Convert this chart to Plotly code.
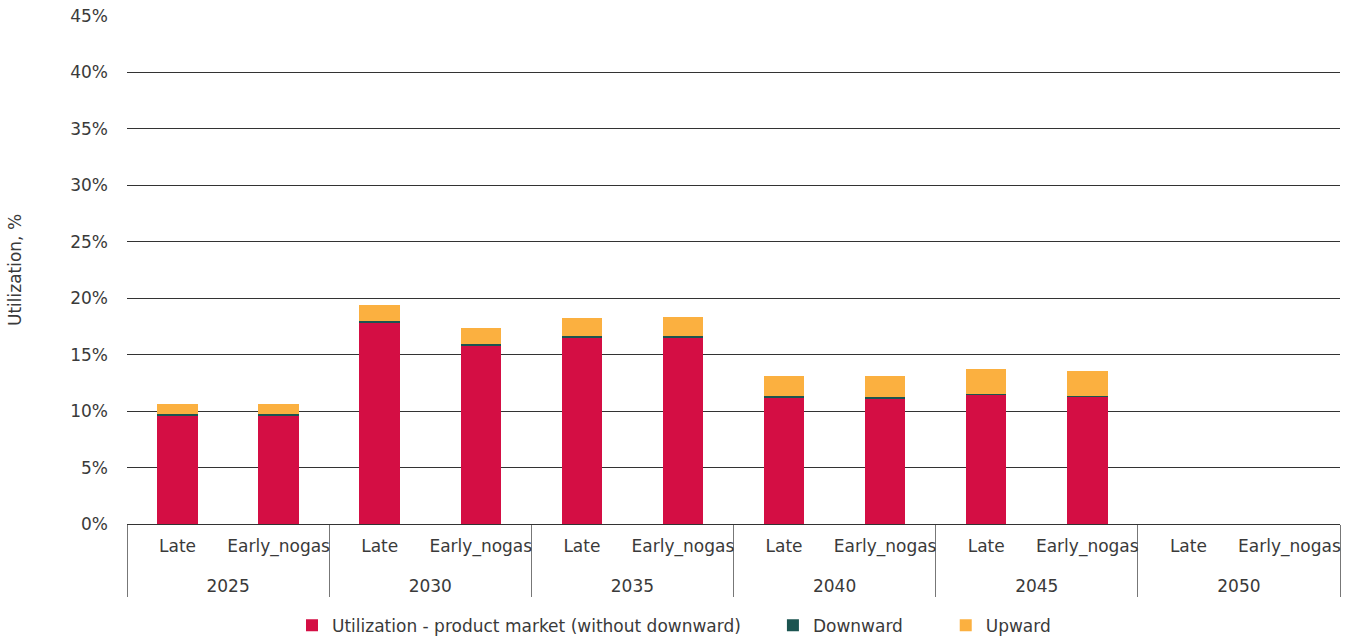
import plotly.graph_objects as go

years = ["2025", "2025", "2030", "2030", "2035", "2035",
         "2040", "2040", "2045", "2045", "2050", "2050"]
scenarios = ["Late", "Early_nogas"] * 6

# Utilization shares in %, stacked per scenario
product_market = [9.6, 9.6, 17.85, 15.85, 16.55, 16.55, 11.2, 11.15, 11.45, 11.25, 0, 0]
downward = [0.12, 0.12, 0.15, 0.12, 0.12, 0.13, 0.1, 0.1, 0.1, 0.12, 0, 0]
upward = [0.9, 0.9, 1.4, 1.4, 1.6, 1.65, 1.85, 1.9, 2.2, 2.15, 0, 0]

y_ticks = [0, 5, 10, 15, 20, 25, 30, 35, 40, 45]
y_tick_text = [f"{v}%" for v in y_ticks]

series = [
    ("Utilization - product market (without downward)", product_market, "#D40E44"),
    ("Downward", downward, "#1B5450"),
    ("Upward", upward, "#FBB040"),
]

FONT = "DejaVu Sans"
TEXT = "#3a3a3a"
SIZE = 17

# inner labels carry a transparent, lowered second line to open space above the year row
SPACER = "<br><sub><span style='color:rgba(0,0,0,0)'>g</span></sub>"
inner_labels = [s + SPACER for s in scenarios]

# extra trailing room after each legend entry
legend_pad = {0: 5, 1: 7, 2: 0}

fig = go.Figure()
for i, (name, vals, color) in enumerate(series):
    fig.add_trace(go.Bar(
        x=[years, inner_labels],
        y=vals,
        name=name + "&nbsp;" * legend_pad[i],
        marker=dict(color=color, line=dict(width=0)),
    ))

fig.update_layout(
    barmode="stack",
    bargap=0.6,
    width=1348,
    height=639,
    margin=dict(l=127, r=8, t=16, b=115, autoexpand=False),
    paper_bgcolor="white",
    plot_bgcolor="white",
    font=dict(family=FONT, size=SIZE, color=TEXT),
    showlegend=True,
    legend=dict(
        orientation="h",
        traceorder="normal",
        xref="container",
        x=0.5, xanchor="center",
        y=-0.2, yanchor="middle",
        font=dict(size=SIZE, color=TEXT),
    ),
    xaxis=dict(
        type="multicategory",
        automargin=False,
        tickangle=0,
        showgrid=False,
        showline=True,
        linecolor="#333333",
        linewidth=1,
        showdividers=True,
        dividercolor="#777777",
        dividerwidth=1,
        tickfont=dict(size=SIZE, color=TEXT),
        ticks="",
        ticklabelstandoff=7,
    ),
    yaxis=dict(
        range=[0, 45],
        automargin=False,
        tickvals=y_ticks,
        ticktext=y_tick_text,
        showgrid=True,
        gridcolor="#333333",
        gridwidth=1,
        zeroline=False,
        showline=False,
        ticks="",
        ticklabelstandoff=18,
        tickfont=dict(size=SIZE, color=TEXT),
        title=dict(text="Utilization, %", standoff=44, font=dict(size=SIZE, color=TEXT)),
    ),
)

fig.write_html("out.html")
